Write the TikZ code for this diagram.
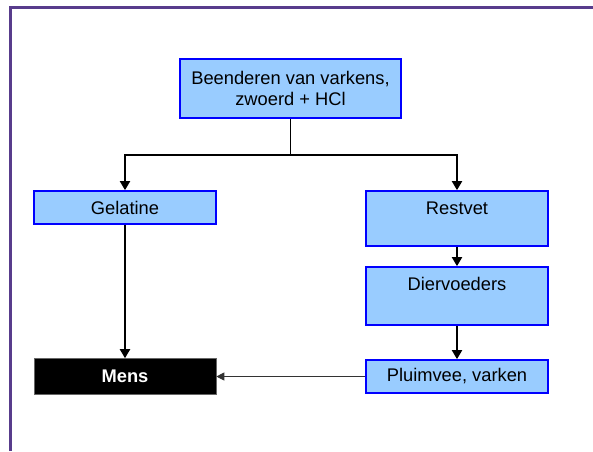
\documentclass[tikz,border=0pt]{standalone}
\usepackage{fontspec}
\setmainfont{Liberation Sans}
\usetikzlibrary{arrows.meta}
\definecolor{boxfill}{RGB}{153,204,255}
\definecolor{boxline}{RGB}{0,0,255}
\definecolor{framecol}{RGB}{88,60,140}
\begin{document}
\begin{tikzpicture}[x=1pt,y=-1pt,
  box/.style={draw=boxline, fill=boxfill, line width=1.7pt, inner sep=0pt,
    font=\fontsize{18.3}{21.5}\selectfont, align=center},
  dark/.style={fill=black, draw=black!60, line width=0.6pt, inner sep=0pt,
    text=white, font=\fontsize{18.3}{21.5}\selectfont\bfseries},
  lbl/.style={inner sep=0pt, font=\fontsize{18.3}{21.5}\selectfont},
  link/.style={line width=1.9pt},
  flow/.style={line width=1.9pt, -{Triangle[length=9pt,width=10pt]}},
  thinflow/.style={line width=0.9pt, draw=black!80, -{Triangle[length=8pt,width=8pt]}}]
\useasboundingbox (0,0) rectangle (593,451);
% slide frame
\draw[framecol, line width=2.2pt] (10.5,451) -- (10.5,7.5) -- (593,7.5);

% boxes
\node[box, minimum width=221, minimum height=59] (src) at (290.5,88.5)
  {Beenderen van varkens,\\zwoerd + HCl};
\node[box, minimum width=182, minimum height=33] (gel) at (125,207.5) {Gelatine};
\node[box, minimum width=182, minimum height=55] (rest) at (457,218.5) {};
\node[lbl] (restT) at (457,208) {Restvet};
\node[box, minimum width=182, minimum height=58] (dier) at (457,296) {};
\node[lbl] (dierT) at (457,284) {Diervoeders};
\node[box, minimum width=182, minimum height=33] (pluim) at (457,376.5) {Pluimvee, varken};
\node[dark, minimum width=182, minimum height=36] (mens) at (125,376.5) {Mens};

% connectors
\coordinate (split) at (290.5,155);
\draw[link] (src.south) -- (split);
\draw[flow] (split) -| (gel.north);
\draw[flow] (split) -| (rest.north);
\draw[flow] (gel) -- (mens);
\draw[flow] (rest) -- (dier);
\draw[flow] (dier) -- (pluim);
\draw[thinflow] (pluim.west) -- (mens.east);
\end{tikzpicture}
\end{document}
